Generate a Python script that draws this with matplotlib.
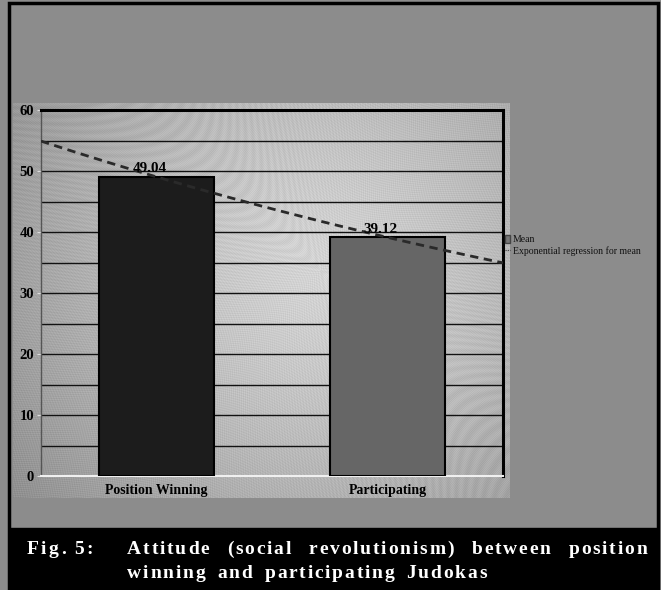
########################################################  Pacotes

import numpy as np
import matplotlib.pyplot as plt
from matplotlib.patches import Rectangle, Patch
from matplotlib.lines import Line2D

########################################################  Dados

categorias = ['Position Winning', 'Participating']
medias = [49.04, 39.12]
cores_barras = ['#1c1c1c', '#666666']
ticks_y = [0, 10, 20, 30, 40, 50, 60]
legenda = ['Mean', 'Exponential regression for mean']
legenda_fig = 'Fig. 5:'
titulo_linha1 = 'Attitude (social revolutionism) between position'
titulo_linha2 = 'winning and participating Judokas'

########################################################  Figura

W, H = 661, 590
fig = plt.figure(figsize=(W / 100, H / 100), dpi=100, facecolor='#8c8c8c')
serif = 'Liberation Serif'
renderer = fig.canvas.get_renderer()


def caixa(x0, y0, x1, y1):
    # converte pixels (origem no topo) para fração da figura
    return [x0 / W, 1 - y1 / H, (x1 - x0) / W, (y1 - y0) / H]


def largura(texto, estilo):
    # largura em pixels de um texto com o estilo dado
    t = fig.text(0, 0, texto, **estilo)
    w = t.get_window_extent(renderer).width
    t.remove()
    return w


def texto_espacado(x, y, texto, estilo, tracking, espaco=None, x_fim=None):
    # escreve letra por letra com espaçamento extra entre elas;
    # se x_fim for dado, as palavras são justificadas até x_fim
    palavras = texto.split()
    larg = [sum(largura(c, estilo) + tracking for c in p) - tracking for p in palavras]
    if x_fim is not None:
        espaco = (x_fim - x - sum(larg)) / (len(palavras) - 1)
    pos = x
    for p, wp in zip(palavras, larg):
        px = pos
        for c in p:
            fig.text(px / W, 1 - y / H, c, **estilo)
            px += largura(c, estilo) + tracking
        pos += wp + espaco


# moldura externa e faixa preta da legenda da figura
fig.patches.append(Rectangle((9 / W, 1 - 588 / H), 649 / W, 585 / H,
                             transform=fig.transFigure, fill=False,
                             edgecolor='black', linewidth=2.5, zorder=0))
fig.patches.append(Rectangle((9 / W, 1 - 588 / H), 649 / W, 60 / H,
                             transform=fig.transFigure, facecolor='black',
                             edgecolor='black', zorder=0))

# fundo do gráfico com degradê radial
ax_fundo = fig.add_axes(caixa(13, 103, 510, 498))
ax_fundo.set_axis_off()
yy, xx = np.mgrid[103:498, 13:510]
r = np.hypot(xx - 320, yy - 270)
fundo = 0.83 - 0.27 * (r / r.max()) ** 1.3
fundo = fundo + 0.035 * np.sin(r * 2.2) * np.sin((xx + yy) * 1.9)
ax_fundo.imshow(fundo, cmap='gray', vmin=0, vmax=1, aspect='auto',
                interpolation='nearest')

# eixo principal
ax = fig.add_axes(caixa(41, 110, 503, 476))
ax.set_facecolor('none')
x = np.arange(len(categorias))

ax.bar(x, medias, width=0.5, color=cores_barras, edgecolor='black',
       linewidth=1.5, zorder=3)
for xi, v in zip(x, medias):
    ax.text(xi - 0.03, v + 0.3, f'{v:.2f}', ha='center', va='bottom',
            fontsize=11, fontweight='bold', family=serif, zorder=5)

# regressão exponencial sobre as médias (x = 1, 2 como no Excel)
t = x + 1
b, ln_a = np.polyfit(t, np.log(medias), 1)
t_curva = np.linspace(0.5, 2.5, 100)
ax.plot(t_curva - 1, np.exp(ln_a + b * t_curva), color='#2a2a2a',
        linestyle=(0, (3, 2)), linewidth=2, zorder=4)

ax.set_xlim(-0.5, 1.5)
ax.set_ylim(0, 60)
ax.set_yticks(ticks_y)
ax.set_yticks(np.arange(5, 60, 10), minor=True)
ax.grid(axis='y', which='both', color='#111111', linewidth=1, zorder=1)
ax.set_xticks(x)
ax.set_xticklabels(categorias, fontsize=10, fontweight='bold', family=serif)
ax.tick_params(axis='x', length=0, pad=6)
ax.tick_params(axis='y', which='major', length=3, color='#dddddd', pad=2,
               labelsize=10.5)
ax.tick_params(axis='y', which='minor', length=0)
for lbl in ax.get_yticklabels():
    lbl.set_fontweight('bold')
    lbl.set_family(serif)

ax.spines['top'].set_linewidth(2.2)
ax.spines['right'].set_linewidth(2.2)
ax.spines['left'].set_color('#555555')
ax.spines['left'].set_linewidth(1)
ax.spines['bottom'].set_color('#f0f0f0')
ax.spines['bottom'].set_linewidth(1.5)

handles = [Patch(facecolor='#777777', edgecolor='#444444'),
           Line2D([], [], color='#333333', linestyle=(0, (1, 1)), linewidth=0.8)]
leg = ax.legend(handles, legenda, loc='center left', bbox_to_anchor=(1.005, 0.63),
                frameon=False, prop={'family': serif, 'size': 7},
                handlelength=0.5, handleheight=0.8, handletextpad=0.25,
                labelspacing=0.15, borderpad=0, borderaxespad=0)
for txt in leg.get_texts():
    txt.set_color('#111111')

# legenda da figura, com letras espaçadas e primeira linha justificada
estilo = dict(color='white', fontsize=14, fontweight='bold', family=serif,
              va='baseline', transform=fig.transFigure)
texto_espacado(27, 554, legenda_fig, estilo, tracking=2.2, espaco=9)
texto_espacado(127, 554, titulo_linha1, estilo, tracking=1.8, x_fim=647)
texto_espacado(127, 578, titulo_linha2, estilo, tracking=1.8, espaco=12)

fig.savefig('out.png', dpi=100, facecolor=fig.get_facecolor())
